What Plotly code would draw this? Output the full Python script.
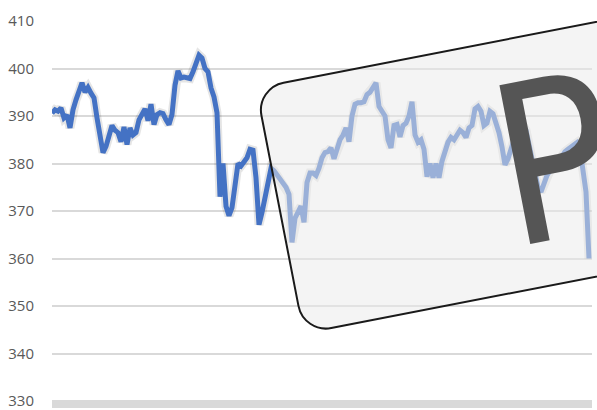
import math
import plotly.graph_objects as go

# ---- data ----
values = [
    390.6, 391.3, 391.0, 391.7, 389.6, 390.2, 387.5, 391.3, 393.4, 395.0,
    397.0, 395.0, 396.0, 394.8, 393.8, 389.6, 386.5, 382.3, 383.6, 385.5,
    388.0, 387.0, 386.5, 384.6, 387.7, 384.0, 387.5, 386.0, 386.5, 389.2,
    390.6, 391.5, 389.0, 392.5, 388.2, 390.3, 390.7, 390.5, 389.2, 388.2,
    390.3, 396.5, 399.5, 398.0, 398.2, 398.0, 397.9, 399.3, 401.2, 402.8,
    402.2, 400.0, 399.3, 395.9, 394.0, 390.7, 373.0, 380.0, 371.0, 369.0,
    370.7, 375.1, 380.0, 379.5, 380.4, 381.2, 383.0, 382.8, 377.0, 367.1,
    369.7, 373.0, 376.5, 379.0, 378.5, 377.6, 377.0, 376.0, 375.0, 373.5,
    363.4, 368.5, 370.0, 371.0, 367.6, 376.0, 378.0, 378.0, 377.5, 379.0,
    381.2, 382.3, 382.5, 383.3, 381.0, 383.0, 385.0, 386.0, 387.5, 384.6,
    390.0, 392.5, 392.8, 392.8, 393.0, 394.5, 395.0, 396.0, 397.0, 392.0,
    391.0, 390.0, 385.0, 383.3, 388.0, 388.2, 385.6, 388.0, 388.5, 390.0,
    393.0, 386.0, 384.5, 385.0, 383.0, 377.2, 380.0, 377.0, 380.0, 377.0,
    380.5, 382.5, 384.5, 385.5, 385.0, 386.0, 387.0, 386.5, 385.5, 387.5,
    388.0, 391.5, 392.0, 391.0, 388.0, 388.5, 391.0, 390.5, 388.5, 386.5,
    383.5, 379.7, 381.0, 383.0, 385.0, 386.0, 387.0, 388.0, 387.0, 384.0,
    380.0, 377.0, 375.0, 374.0, 376.0, 377.5, 378.5, 379.0, 380.0, 380.5,
    381.5, 382.5, 383.0, 383.5, 384.0, 384.4, 383.0, 379.0, 374.0, 360.0,
]
days = list(range(len(values)))
y_ticks = [330, 340, 350, 360, 370, 380, 390, 400, 410]
stamp_text = "PREVIEW"

# ---- layout geometry (pixels) ----
FIG_W, FIG_H = 597, 410
M_L, M_R, M_T, M_B = 52, 5, 21, 9
PLOT_W = FIG_W - M_L - M_R
PLOT_H = FIG_H - M_T - M_B


def to_paper(X, Y):
    return (X - M_L) / PLOT_W, (FIG_H - M_B - Y) / PLOT_H


def rounded_rect_path(tl, width, height, radius, angle_deg):
    th = math.radians(angle_deg)
    u = (math.cos(th), -math.sin(th))
    v = (math.sin(th), math.cos(th))

    def P(a, b):
        X = tl[0] + a * u[0] + b * v[0]
        Y = tl[1] + a * u[1] + b * v[1]
        x, y = to_paper(X, Y)
        return f"{x:.5f},{y:.5f}"

    r, k = radius, radius * 0.5523
    w, h = width, height
    d = [
        f"M {P(r, 0)}",
        f"L {P(w - r, 0)}",
        f"C {P(w - r + k, 0)} {P(w, r - k)} {P(w, r)}",
        f"L {P(w, h - r)}",
        f"C {P(w, h - r + k)} {P(w - r + k, h)} {P(w - r, h)}",
        f"L {P(r, h)}",
        f"C {P(r - k, h)} {P(0, h - r + k)} {P(0, h - r)}",
        f"L {P(0, r)}",
        f"C {P(0, r - k)} {P(r - k, 0)} {P(r, 0)}",
        "Z",
    ]
    return " ".join(d)


ANGLE = 11.0
box_path = rounded_rect_path((256.1, 88.0), 650, 250, 28, ANGLE)
text_x, text_y = to_paper(939.5, 86.0)
bar_y = to_paper(0, 404)[1]

fig = go.Figure()
fig.add_trace(go.Scatter(
    x=days, y=values, mode="lines",
    line=dict(color="rgba(0,0,0,0.10)", width=9),
    hoverinfo="skip", showlegend=False,
))
fig.add_trace(go.Scatter(
    x=days, y=values, mode="lines",
    line=dict(color="#4472C4", width=5),
    showlegend=False,
))

fig.add_shape(type="line", xref="paper", yref="paper", x0=0, x1=1, y0=bar_y, y1=bar_y,
              line=dict(color="#d9d9d9", width=8), layer="below")

fig.add_shape(type="path", xref="paper", yref="paper", path=box_path,
              fillcolor="rgba(234,234,234,0.52)",
              line=dict(color="#1a1a1a", width=2), layer="above")

fig.add_annotation(
    xref="paper", yref="paper", x=text_x, y=text_y,
    xanchor="center", yanchor="middle",
    text=stamp_text, showarrow=False, textangle=-ANGLE,
    font=dict(family="Liberation Sans Narrow, DejaVu Sans Condensed, Liberation Sans",
              size=222, color="#555555"),
)

fig.update_layout(
    width=FIG_W, height=FIG_H,
    margin=dict(l=M_L, r=M_R, t=M_T, b=M_B, autoexpand=False),
    paper_bgcolor="white", plot_bgcolor="white",
    font=dict(family="Open Sans, Noto Sans, sans-serif", size=15, color="#595959"),
    xaxis=dict(visible=False, range=[0, 180], automargin=False),
    yaxis=dict(range=[330, 410], tickvals=y_ticks, showgrid=True,
               gridcolor="#d9d9d9", gridwidth=1.5, zeroline=False,
               showline=False, ticks="", ticklabelstandoff=17, automargin=False,
               ticklabeloverflow="allow",
               tickfont=dict(size=15, color="#595959")),
)

fig.write_html("out.html", config={"displayModeBar": False},
               post_script="document.body.style.margin='0';")
